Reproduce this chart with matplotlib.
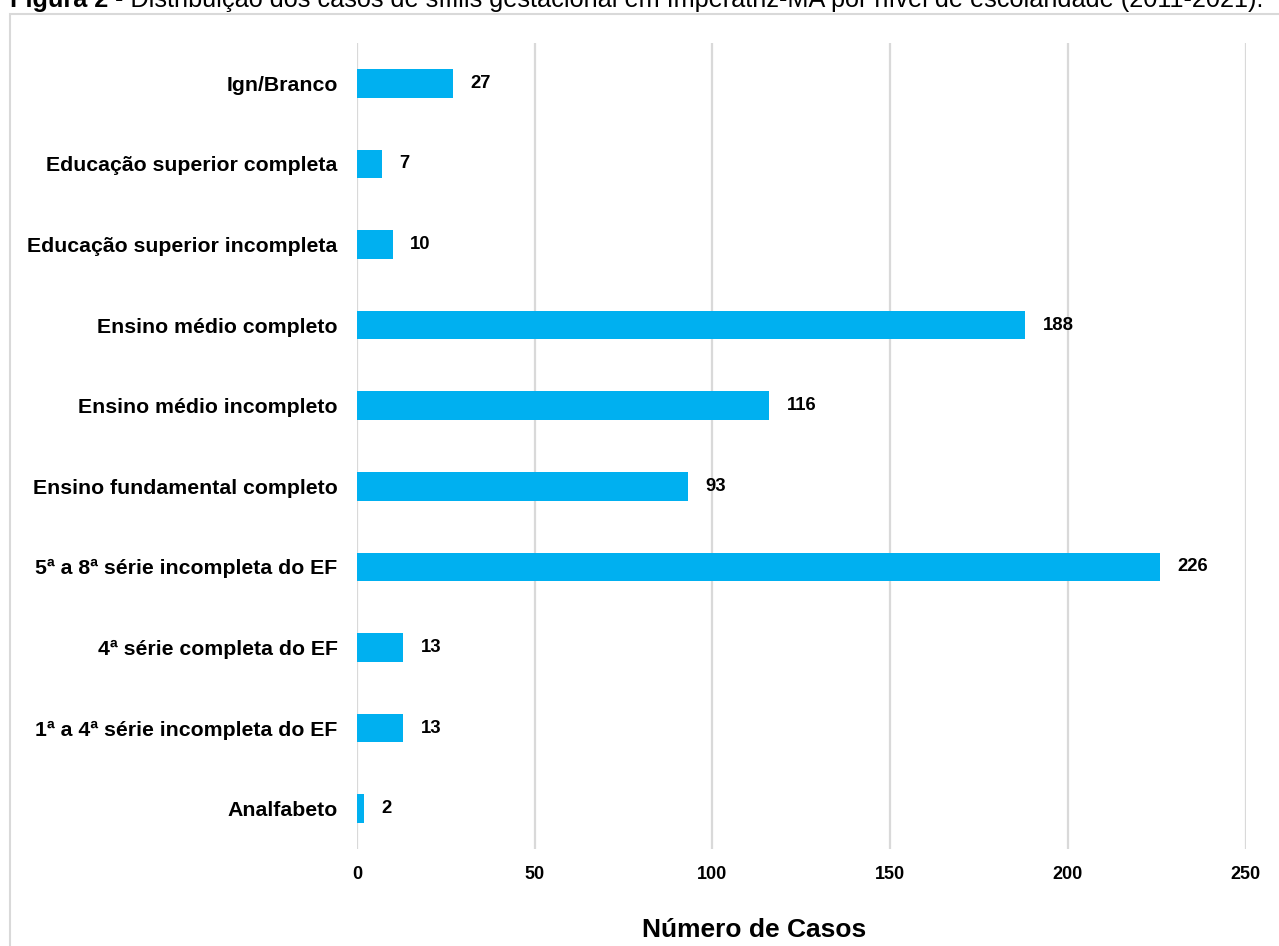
import matplotlib
matplotlib.use("Agg")
import matplotlib.pyplot as plt
from matplotlib.patches import Rectangle

plt.rcParams["font.family"] = ["Liberation Sans", "DejaVu Sans"]

categorias = [
    "Analfabeto",
    "1ª a 4ª série incompleta do EF",
    "4ª série completa do EF",
    "5ª a 8ª série incompleta do EF",
    "Ensino fundamental completo",
    "Ensino médio incompleto",
    "Ensino médio completo",
    "Educação superior incompleta",
    "Educação superior completa",
    "Ign/Branco",
]
casos = [2, 13, 13, 226, 93, 116, 188, 10, 7, 27]
x_ticks = [0, 50, 100, 150, 200, 250]

W, H = 1279, 946
fig = plt.figure(figsize=(W / 100, H / 100), dpi=100)
fig.patch.set_facecolor("white")

# moldura cinza (cortada na direita/embaixo como no original)
fig.patches.append(Rectangle((9.5 / W, -0.2), 2.0, 1.2 - 14 / H,
                             transform=fig.transFigure, fill=False,
                             edgecolor="#d9d9d9", linewidth=1.5, zorder=0))

ax = fig.add_axes([357 / W, 1 - 849 / H, (1245.7 - 357) / W, (849 - 43) / H])
ypos = list(range(len(categorias)))
ax.barh(ypos, casos, height=0.355, color="#00b0f0", zorder=3)
ax.set_xlim(0, 250)
ax.set_ylim(-0.5, len(categorias) - 0.5)
ax.set_xticks(x_ticks)
ax.set_yticks(ypos)
ax.set_yticklabels(categorias, fontsize=15.3, fontweight="bold")
ax.set_xticklabels([str(t) for t in x_ticks], fontsize=13, fontweight="bold")
ax.tick_params(axis="y", length=0, pad=14)
ax.tick_params(axis="x", length=0, pad=12)
for s in ax.spines.values():
    s.set_visible(False)
ax.grid(axis="x", color="#d9d9d9", linewidth=1.6, zorder=0)
ax.set_axisbelow(True)

for y, v in zip(ypos, casos):
    ax.annotate(str(v), (v, y), xytext=(12.5, 0), textcoords="offset points",
                va="center", ha="left", fontsize=13.3, fontweight="bold")

fig.text(754 / W, 1 - 937 / H, "Número de Casos", ha="center", va="baseline",
         fontsize=19, fontweight="bold")

# título cortado no topo
fig.canvas.draw()
r = fig.canvas.get_renderer()
fs = 16
t1 = fig.text(10 / W, 1 - 7.5 / H, "Figura 2", fontsize=fs, fontweight="bold",
              va="baseline", ha="left")
bb = t1.get_window_extent(r)
t2 = fig.text(bb.x1 / W, 1 - 7.5 / H,
              " - Distribuição dos casos de sífilis gestacional em Imperatriz-MA por nível de escolaridade (2011-2021).",
              fontsize=fs, va="baseline", ha="left")
total = t2.get_window_extent(r).x1 - bb.x0
scale = 1256 / total
t1.set_fontsize(fs * scale)
bb = t1.get_window_extent(r)
t2.set_fontsize(fs * scale)
t2.set_x(bb.x1 / W)

fig.savefig("out.png", dpi=100)
